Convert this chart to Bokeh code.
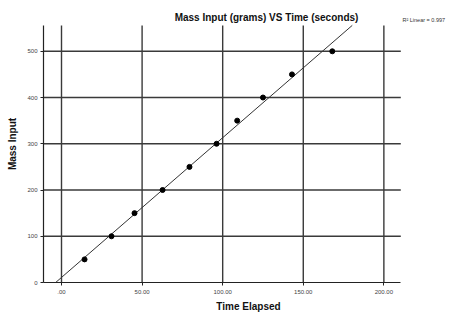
import numpy as np
from bokeh.plotting import figure
from bokeh.models import Range1d, Label, FixedTicker
from bokeh.embed import file_html
from bokeh.resources import INLINE

# Data
time_elapsed = [14.3, 31.0, 45.3, 62.7, 79.4, 96.2, 109.0, 125.0, 143.0, 168.0]
mass_input = [50, 100, 150, 200, 250, 300, 350, 400, 450, 500]
x_ticks = [0, 50, 100, 150, 200]
x_tick_labels = [".00", "50.00", "100.00", "150.00", "200.00"]
y_ticks = [0, 100, 200, 300, 400, 500]
y_tick_labels = ["0", "100", "200", "300", "400", "500"]
title_text = "Mass Input (grams) VS Time (seconds)"
r2_text = "R\u00b2 Linear = 0.997"

FONT = "Liberation Sans"

# visible data box of the chart
X0, X1 = -11.17, 210.5
Y0, Y1 = 0, 556

p = figure(width=455, height=314, output_backend="svg", toolbar_location=None,
           x_range=Range1d(X0, 243.2), y_range=Range1d(Y0, 599),
           min_border_left=43, min_border_right=2, min_border_top=5, min_border_bottom=31)

p.outline_line_color = None
p.background_fill_color = "white"
p.xgrid.visible = False
p.ygrid.visible = False

# grid lines limited to the chart box
gx = [t for t in x_ticks]
gy = [t for t in y_ticks if t > 0]
p.segment(x0=gx, y0=[Y0] * len(gx), x1=gx, y1=[Y1] * len(gx),
          line_color="#3a3a3a", line_width=1.4)
p.segment(x0=[X0] * len(gy), y0=gy, x1=[X1] * len(gy), y1=gy,
          line_color="#3a3a3a", line_width=1.4)

for ax in (p.xaxis[0], p.yaxis[0]):
    ax.axis_line_color = "#222222"
    ax.axis_line_width = 1.2
    ax.major_tick_line_color = "#222222"
    ax.major_tick_out = 3
    ax.major_tick_in = 0
    ax.minor_tick_line_color = None
    ax.major_label_text_font = FONT
    ax.major_label_text_font_size = "6px"
    ax.major_label_text_color = "#444444"
    ax.axis_label_text_font = FONT
    ax.axis_label_text_font_size = "10px"
    ax.axis_label_text_font_style = "bold"
    ax.axis_label_text_color = "#111111"

p.xaxis.bounds = (X0, X1)
p.yaxis.bounds = (Y0, Y1)

p.xaxis.ticker = FixedTicker(ticks=x_ticks)
p.xaxis.major_label_overrides = dict(zip(x_ticks, x_tick_labels))
p.xaxis.axis_label = "Time Elapsed"
p.xaxis.major_label_standoff = 4
p.xaxis.axis_label_standoff = 4

p.yaxis.ticker = FixedTicker(ticks=y_ticks)
p.yaxis.major_label_overrides = dict(zip(y_ticks, y_tick_labels))
p.yaxis.axis_label = "Mass Input"
p.yaxis.major_label_standoff = 3
p.yaxis.axis_label_standoff = 6

# Linear fit line, from y=0 up to the top of the box
slope, intercept = np.polyfit(time_elapsed, mass_input, 1)
fx = [(Y0 - intercept) / slope, (Y1 - intercept) / slope]
fy = [Y0, Y1]
p.line(fx, fy, line_color="#333333", line_width=1)

p.scatter(time_elapsed, mass_input, size=5, color="black")

p.add_layout(Label(x=127.2, y=573, text=title_text, text_font=FONT, text_font_size="10px",
                   text_font_style="bold", text_color="#111111",
                   text_align="center", text_baseline="middle"))
p.add_layout(Label(x=211.5, y=567, text=r2_text, text_font=FONT, text_font_size="5.5px",
                   text_color="#333333", text_baseline="middle"))

open("out.html", "w").write(file_html(p, INLINE))
